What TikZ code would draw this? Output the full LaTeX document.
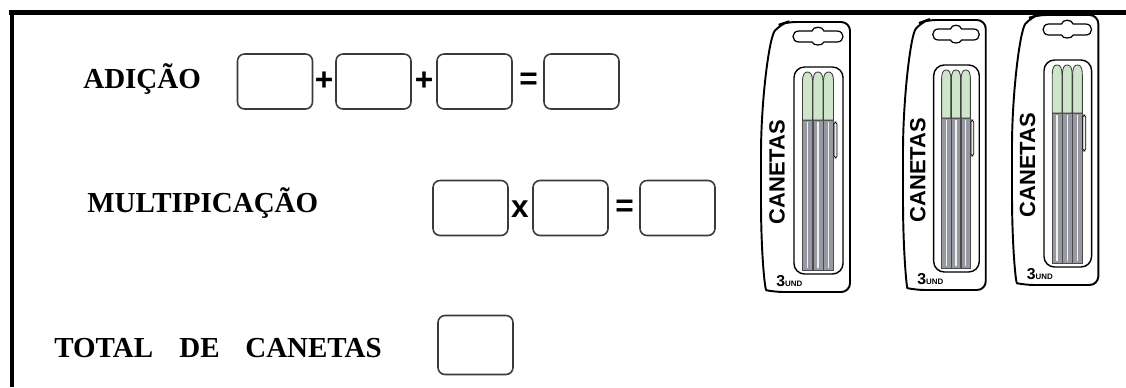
\documentclass[tikz,border=0pt]{standalone}
\usepackage{fontspec}
\setmainfont{Liberation Serif}
\newfontfamily\packfont{Liberation Sans}
\definecolor{capgreen}{HTML}{CFE5CA}
\definecolor{penbody}{HTML}{9898A3}
\definecolor{boxline}{HTML}{3A3A3A}

\begin{document}
\begin{tikzpicture}[x=0.02cm, y=-0.02cm,
  ansbox/.style={draw=boxline, line width=0.9pt, rounded corners=4pt, minimum width=1.5cm, minimum height=1.1cm, inner sep=0},
  rowtitle/.style={font=\fontsize{16.5}{20}\selectfont\bfseries, anchor=base west, inner sep=0},
  opsign/.style={font=\packfont\bfseries\fontsize{18}{18}\selectfont, inner sep=0},
  packline/.style={line width=1.1pt, rounded corners=5pt},
  packtext/.style={font=\packfont\bfseries\fontsize{12.5}{13}\selectfont, rotate=90, inner sep=0}]
  \useasboundingbox (0,0) rectangle (1126,387);
  \draw[line width=0.1cm] (9,12.5) -- (1126,12.5);
  \draw[line width=0.1cm] (12,10) -- (12,387);

  \node[rowtitle] (add) at (83,88) {ADIÇÃO};
  \node[ansbox] (a1) at (275,81.5) {};
  \node[opsign] (p1) at (324,81.5) {+};
  \node[ansbox] (a2) at (373.5,81.5) {};
  \node[opsign] (p2) at (424,81.5) {+};
  \node[ansbox] (a3) at (474.5,81.5) {};
  \node[opsign] (e1) at (528.5,81.5) {=};
  \node[ansbox] (a4) at (581.5,81.5) {};

  \node[rowtitle] (mult) at (87,212) {MULTIPICAÇÃO};
  \node[ansbox] (m1) at (470.5,208) {};
  \node[opsign, font=\packfont\bfseries\fontsize{18}{18}\selectfont] (x1) at (520,209) {x};
  \node[ansbox] (m2) at (570.5,208) {};
  \node[opsign] (e2) at (624.5,208) {=};
  \node[ansbox] (m3) at (677.5,208) {};

  \node[rowtitle] (tot) at (54,357) {TOTAL};
  \node[rowtitle] (de) at (179,357) {DE};
  \node[rowtitle] (can) at (245,357) {CANETAS};
  \node[ansbox, minimum height=1.18cm] (t1) at (475.5,345) {};

  \foreach \px/\py/\sx [count=\k] in {761/22/1, 903/20/0.93, 1012/15/0.97} {
    \begin{scope}[shift={(\px,\py)}, xscale=\sx]
      \draw[packline] (26,0) -- (89,0) -- (89,270) -- (14,270) .. controls (4,268) and (1,240) .. (0,190) -- (0,140) .. controls (0,80) and (8,15) .. (20,2) -- cycle;
      \draw[line width=0.7pt] (38,9) -- (51,9) .. controls (52,4) and (62,4) .. (63,9) -- (76,9) .. controls (84,9) and (84,20) .. (76,20) -- (63,20) .. controls (62,24) and (52,24) .. (51,20) -- (38,20) .. controls (30,20) and (30,9) .. (38,9) -- cycle;
      \draw[line width=0.8pt, rounded corners=6pt] (33,45) rectangle (82,252);
      \foreach \cx in {46.5,57,67.5} {
        \draw[draw=black!70, fill=penbody, line width=0.4pt] (\cx-5,98) rectangle (\cx+5,248);
        \draw[white!60!capgreen, line width=0.8pt] (\cx,100) -- (\cx,246);
        \draw[draw=black!75, fill=capgreen, line width=0.5pt] (\cx-5,98) -- (\cx-5,60) .. controls (\cx-5,52) and (\cx-3,50) .. (\cx,50) .. controls (\cx+3,50) and (\cx+5,52) .. (\cx+5,60) -- (\cx+5,98) -- cycle;
      }
      \draw[line width=0.4pt, fill=white!85!gray, rounded corners=1pt] (73,100) rectangle (76,136);
      \node[packtext] (pk\k) at (16,150) {CANETAS};
      \node[font=\packfont\bfseries\fontsize{9}{9}\selectfont, anchor=base west, inner sep=0] (un\k) at (15,264) {3\fontsize{4.5}{4.5}\selectfont UND};
    \end{scope}
  }
\end{tikzpicture}
\end{document}
